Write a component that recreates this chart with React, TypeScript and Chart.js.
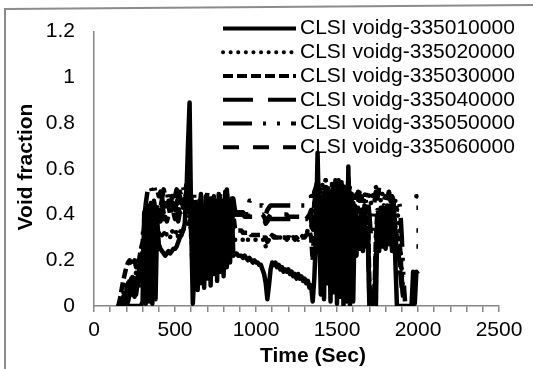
import React, { useEffect, useRef } from 'react';
import { Chart, registerables } from 'chart.js';

Chart.register(...registerables);

// ---- data ----
const TIME_SEC = [
  150, 160, 170, 180, 190,
  200, 210, 220, 230, 240, 250, 260, 270, 280, 290,
  300, 310, 320, 330, 340, 350, 360, 370, 380, 390,
  400, 410, 420, 430, 440, 450, 460, 470, 480, 490,
  500, 510, 520, 530, 540, 550, 560, 570, 580, 590,
  600, 610, 620, 630, 640, 650, 660, 670, 680, 690,
  700, 710, 720, 730, 740, 750, 760, 770, 780, 790,
  800, 810, 820, 830, 840, 850, 860, 870, 880, 890,
  900, 910, 920, 930, 940, 950, 960, 970, 980, 990,
  1000, 1010, 1020, 1030, 1040, 1050, 1060, 1070, 1080, 1090,
  1100, 1110, 1120, 1130, 1140, 1150, 1160, 1170, 1180, 1190,
  1200, 1210, 1220, 1230, 1240, 1250, 1260, 1270, 1280, 1290,
  1300, 1310, 1320, 1330, 1340, 1350, 1360, 1370, 1380, 1390,
  1400, 1410, 1420, 1430, 1440, 1450, 1460, 1470, 1480, 1490,
  1500, 1510, 1520, 1530, 1540, 1550, 1560, 1570, 1580, 1590,
  1600, 1610, 1620, 1630, 1640, 1650, 1660, 1670, 1680, 1690,
  1700, 1710, 1720, 1730, 1740, 1750, 1760, 1770, 1780, 1790,
  1800, 1810, 1820, 1830, 1840, 1850, 1860, 1870, 1880, 1890,
  1900, 1910, 1920, 1930, 1940, 1950, 1960, 1970, 1980, 1990,
  2000,
];

const VOIDG_335010000 = [
  0, 0, 0, 0, 0,
  0, 0, 0, 0, 0, 0, 0, 0, 0, 0,
  0.02, 0.41, 0.01, 0.43, 0.02, 0.44, 0.01, 0.42, 0.03, 0.38,
  0.27, 0.25, 0.24, 0.23, 0.22, 0.23, 0.24, 0.23, 0.24, 0.25,
  0.25, 0.26, 0.28, 0.30, 0.31, 0.33, 0.36, 0.48, 0.70, 0.89,
  0.35, 0.01, 0.15, 0.42, 0.07, 0.46, 0.10, 0.44, 0.08, 0.48,
  0.12, 0.45, 0.09, 0.47, 0.14, 0.43, 0.11, 0.49, 0.15, 0.46,
  0.13, 0.50, 0.17, 0.44, 0.19, 0.47, 0.22, 0.23, 0.23, 0.22,
  0.22, 0.22, 0.21, 0.22, 0.21, 0.20, 0.21, 0.20, 0.19, 0.20,
  0.19, 0.19, 0.18, 0.18, 0.16, 0.14, 0.10, 0.03, 0.09, 0.16,
  0.19, 0.18, 0.19, 0.17, 0.18, 0.16, 0.17, 0.15, 0.16, 0.15,
  0.16, 0.14, 0.15, 0.13, 0.14, 0.12, 0.14, 0.12, 0.13, 0.11,
  0.12, 0.10, 0.11, 0.08, 0.09, 0.02, 0.12, 0.30, 0.67, 0.35,
  0.05, 0.48, 0.03, 0.52, 0.10, 0.45, 0.02, 0.50, 0.06, 0.55,
  0.01, 0.47, 0.04, 0.53, 0.00, 0.45, 0.02, 0.61, 0.00, 0.49,
  0.02, 0.42, 0.22, 0.38, 0.25, 0.41, 0.24, 0.37, 0.26, 0.30,
  0.00, 0.02, 0.00, 0.01, 0.00, 0.40, 0.24, 0.43, 0.26, 0.41,
  0.25, 0.44, 0.27, 0.40, 0.24, 0.46, 0.20, 0.00, 0.00, 0.00,
  0.00, 0.00, 0.00, 0.00, 0.00, 0.00, 0.00, 0.15, 0.01, 0.15,
  0.14,
];

const VOIDG_335020000 = [
  0, 0, 0.02, 0.05, 0.08,
  0.10, 0.06, 0.12, 0.08, 0.14, 0.10, 0.15, 0.12, 0.16, 0.14,
  0.12, 0.18, 0.25, 0.30, 0.33, 0.34, 0.32, 0.33, 0.31, 0.30,
  0.32, 0.30, 0.31, 0.33, 0.30, 0.32, 0.31, 0.30, 0.33, 0.32,
  0.31, 0.33, 0.30, 0.32, 0.34, 0.33, 0.35, 0.38, 0.36, 0.40,
  0.30, 0.20, 0.28, 0.18, 0.27, 0.22, 0.30, 0.19, 0.26, 0.24,
  0.28, 0.20, 0.27, 0.22, 0.30, 0.21, 0.26, 0.24, 0.29, 0.23,
  0.27, 0.24, 0.30, 0.25, 0.28, 0.26, 0.30, 0.29, 0.29, 0.29,
  0.29, 0.29, 0.29, 0.30, 0.29, 0.29, 0.29, 0.29, 0.29, 0.29,
  0.29, 0.29, 0.29, 0.29, 0.29, 0.29, 0.26, 0.28, 0.29, 0.30,
  0.30, 0.30, 0.31, 0.30, 0.30, 0.30, 0.30, 0.30, 0.30, 0.30,
  0.30, 0.30, 0.30, 0.30, 0.30, 0.30, 0.30, 0.30, 0.30, 0.31,
  0.31, 0.32, 0.33, 0.33, 0.34, 0.38, 0.45, 0.50, 0.52, 0.48,
  0.50, 0.53, 0.49, 0.55, 0.50, 0.52, 0.48, 0.54, 0.50, 0.52,
  0.48, 0.53, 0.50, 0.55, 0.49, 0.52, 0.47, 0.50, 0.52, 0.49,
  0.50, 0.47, 0.49, 0.46, 0.50, 0.48, 0.45, 0.49, 0.47, 0.50,
  0.48, 0.45, 0.50, 0.47, 0.52, 0.48, 0.50, 0.46, 0.49, 0.47,
  0.48, 0.46, 0.50, 0.47, 0.49, 0.45, 0.46, 0.42, 0.38, 0.28,
  0.15, 0.05, null, null, null, null, null, null, null, 0.48,
  0.48,
];

const VOIDG_335030000 = [
  0, 0.03, 0.07, 0.11, 0.14,
  0.17, 0.19, 0.20, 0.19, 0.18, 0.20, 0.17, 0.19, 0.21, 0.25,
  0.28, 0.35, 0.40, 0.44, 0.38, 0.42, 0.40, 0.43, 0.39, 0.41,
  0.43, 0.40, 0.44, 0.41, 0.45, 0.42, 0.44, 0.40, 0.43, 0.45,
  0.42, 0.45, 0.41, 0.44, 0.46, 0.43, 0.47, 0.44, 0.46, 0.48,
  0.40, 0.32, 0.45, 0.30, 0.42, 0.35, 0.47, 0.33, 0.44, 0.36,
  0.46, 0.31, 0.43, 0.34, 0.48, 0.32, 0.45, 0.35, 0.47, 0.33,
  0.44, 0.36, 0.49, 0.34, 0.45, 0.38, 0.40, 0.34, 0.33, 0.33,
  0.33, 0.33, 0.32, 0.32, 0.32, 0.32, 0.32, 0.31, 0.31, 0.31,
  0.31, 0.31, 0.31, 0.31, 0.30, 0.30, 0.30, 0.28, 0.29, 0.30,
  0.31, 0.30, 0.30, 0.30, 0.30, 0.30, 0.30, 0.30, 0.30, 0.29,
  0.30, 0.30, 0.29, 0.30, 0.29, 0.30, 0.29, 0.30, 0.30, 0.30,
  0.30, 0.31, 0.32, 0.33, 0.30, 0.20, 0.35, 0.40, 0.45, 0.42,
  0.30, 0.45, 0.35, 0.48, 0.28, 0.44, 0.38, 0.50, 0.32, 0.46,
  0.36, 0.49, 0.30, 0.52, 0.34, 0.48, 0.29, 0.55, 0.35, 0.46,
  0.40, 0.44, 0.38, 0.43, 0.40, 0.42, 0.39, 0.44, 0.41, 0.43,
  0.10, 0.02, 0.05, 0.01, 0.30, 0.42, 0.40, 0.43, 0.41, 0.44,
  0.42, 0.43, 0.40, 0.44, 0.41, 0.43, 0.35, 0.30, 0.28, 0.25,
  0.12, 0.03, null, null, null, null, null, null, null, 0.43,
  0.43,
];

const VOIDG_335040000 = [
  0, 0, 0, 0.01, 0.03,
  0.06, 0.10, 0.04, 0.12, 0.07, 0.14, 0.05, 0.11, 0.08, 0.15,
  0.25, 0.20, 0.35, 0.28, 0.38, 0.30, 0.40, 0.36, 0.38, 0.37,
  0.39, 0.37, 0.40, 0.38, 0.39, 0.37, 0.40, 0.38, 0.39, 0.41,
  0.38, 0.40, 0.37, 0.41, 0.39, 0.42, 0.40, 0.43, 0.41, 0.50,
  0.45, 0.25, 0.40, 0.22, 0.38, 0.27, 0.41, 0.24, 0.39, 0.28,
  0.42, 0.26, 0.40, 0.23, 0.44, 0.27, 0.39, 0.25, 0.43, 0.29,
  0.40, 0.26, 0.45, 0.30, 0.41, 0.35, 0.42, 0.40, 0.40, 0.40,
  0.40, 0.40, 0.40, 0.39, 0.39, 0.39, 0.39, 0.39, 0.39, 0.38,
  0.38, 0.38, 0.38, 0.38, 0.38, 0.38, 0.36, 0.37, 0.38, 0.38,
  0.38, 0.38, 0.38, 0.38, 0.38, 0.38, 0.38, 0.38, 0.38, 0.38,
  0.38, 0.38, 0.38, 0.38, 0.38, 0.38, 0.38, 0.38, 0.38, 0.38,
  0.38, 0.38, 0.39, 0.40, 0.42, 0.35, 0.45, 0.50, 0.55, 0.46,
  0.40, 0.30, 0.44, 0.28, 0.46, 0.32, 0.42, 0.27, 0.45, 0.33,
  0.40, 0.30, 0.46, 0.28, 0.42, 0.34, 0.47, 0.30, 0.44, 0.38,
  0.35, 0.38, 0.33, 0.37, 0.34, 0.38, 0.32, 0.36, 0.35, 0.34,
  0.05, 0.00, 0.02, 0.00, 0.20, 0.36, 0.33, 0.37, 0.34, 0.36,
  0.35, 0.37, 0.33, 0.36, 0.34, 0.35, 0.30, 0.25, 0.20, 0.15,
  0.08, null, null, null, null, null, null, null, null, 0.33,
  0.33,
];

const VOIDG_335050000 = [
  0, 0, 0, 0, 0,
  0, 0.02, 0.05, 0.10, 0.06, 0.12, 0.15, 0.10, 0.18, 0.22,
  0.30, 0.38, 0.45, 0.50, 0.53, 0.52, 0.50, 0.53, 0.49, 0.51,
  0.48, 0.50, 0.47, 0.51, 0.48, 0.50, 0.46, 0.49, 0.47, 0.50,
  0.48, 0.51, 0.47, 0.50, 0.48, 0.52, 0.49, 0.53, 0.50, 0.52,
  0.48, 0.38, 0.50, 0.36, 0.47, 0.40, 0.49, 0.37, 0.46, 0.41,
  0.50, 0.38, 0.47, 0.40, 0.49, 0.37, 0.46, 0.41, 0.50, 0.39,
  0.48, 0.40, 0.51, 0.42, 0.49, 0.44, 0.47, 0.42, 0.40, 0.40,
  0.40, 0.40, 0.40, 0.40, 0.40, 0.40, 0.46, 0.46, 0.46, 0.45,
  0.45, 0.45, 0.44, 0.44, 0.44, 0.43, 0.40, 0.42, 0.43, 0.44,
  0.44, 0.44, 0.44, 0.44, 0.44, 0.44, 0.44, 0.44, 0.44, 0.44,
  0.44, 0.44, 0.44, 0.44, 0.44, 0.44, 0.44, 0.44, 0.44, 0.44,
  0.44, 0.44, 0.45, 0.46, 0.48, 0.45, 0.50, 0.52, 0.55, 0.50,
  0.45, 0.52, 0.42, 0.55, 0.46, 0.50, 0.40, 0.53, 0.44, 0.51,
  0.42, 0.55, 0.45, 0.50, 0.40, 0.52, 0.43, 0.56, 0.46, 0.48,
  0.45, 0.49, 0.44, 0.50, 0.46, 0.48, 0.43, 0.49, 0.45, 0.47,
  0.40, 0.30, 0.35, 0.45, 0.50, 0.47, 0.52, 0.48, 0.50, 0.46,
  0.49, 0.47, 0.50, 0.46, 0.48, 0.44, 0.40, 0.42, 0.46, 0.43,
  0.30, 0.12, 0.02, null, null, null, null, null, null, 0.48,
  0.48,
];

const VOIDG_335060000 = [
  0, 0, 0.01, 0.04, 0.02,
  0.08, 0.03, 0.10, 0.05, 0.12, 0.04, 0.09, 0.13, 0.06, 0.12,
  0.18, 0.30, 0.25, 0.40, 0.35, 0.45, 0.40, 0.46, 0.42, 0.44,
  0.46, 0.43, 0.47, 0.44, 0.45, 0.42, 0.46, 0.44, 0.47, 0.45,
  0.44, 0.47, 0.45, 0.48, 0.46, 0.49, 0.47, 0.50, 0.52, 0.55,
  0.30, 0.15, 0.35, 0.18, 0.33, 0.20, 0.36, 0.16, 0.34, 0.21,
  0.37, 0.18, 0.35, 0.20, 0.38, 0.17, 0.34, 0.22, 0.39, 0.19,
  0.36, 0.22, 0.40, 0.25, 0.37, 0.30, 0.41, 0.41, 0.41, 0.41,
  0.41, 0.41, 0.41, 0.40, 0.40, 0.40, 0.40, 0.40, 0.40, 0.40,
  0.40, 0.40, 0.40, 0.40, 0.40, 0.39, 0.37, 0.38, 0.39, 0.40,
  0.40, 0.40, 0.40, 0.40, 0.40, 0.40, 0.40, 0.40, 0.40, 0.40,
  0.39, 0.39, 0.39, 0.39, 0.39, 0.39, 0.39, 0.39, 0.39, 0.39,
  0.39, 0.39, 0.40, 0.41, 0.38, 0.30, 0.40, 0.47, 0.52, 0.44,
  0.35, 0.42, 0.30, 0.46, 0.33, 0.41, 0.28, 0.44, 0.36, 0.40,
  0.31, 0.45, 0.35, 0.42, 0.28, 0.47, 0.33, 0.44, 0.30, 0.42,
  0.38, 0.41, 0.36, 0.40, 0.37, 0.42, 0.35, 0.40, 0.38, 0.39,
  0.02, 0.00, 0.00, 0.00, 0.25, 0.39, 0.37, 0.40, 0.38, 0.41,
  0.39, 0.40, 0.37, 0.41, 0.38, 0.40, 0.33, 0.28, 0.22, 0.18,
  0.10, 0.03, null, null, null, null, null, null, null, 0.26,
  0.26,
];

const SERIES_VALUES = [
  VOIDG_335010000,
  VOIDG_335020000,
  VOIDG_335030000,
  VOIDG_335040000,
  VOIDG_335050000,
  VOIDG_335060000,
];

const SERIES_LABELS = [
  'CLSI voidg-335010000',
  'CLSI voidg-335020000',
  'CLSI voidg-335030000',
  'CLSI voidg-335040000',
  'CLSI voidg-335050000',
  'CLSI voidg-335060000',
];

const X_TICK_LABELS = [0, 500, 1000, 1500, 2000, 2500];
const Y_TICK_LABELS = [0, 0.2, 0.4, 0.6, 0.8, 1, 1.2];
const X_TITLE = 'Time (Sec)';
const Y_TITLE = 'Void fraction';

// ---- styles ----
const FONT = '"Liberation Sans", Arial, Helvetica, sans-serif';
const AXIS_COLOR = '#868686';
const DASHES: number[][] = [
  [],
  [0.1, 7.5],
  [10, 4],
  [30, 15],
  [29, 11, 3, 11, 3, 11],
  [16, 14],
];
const CAPS = ['butt', 'round', 'butt', 'butt', 'butt', 'butt'];

const overlayPlugin = {
  id: 'overlay',
  beforeDraw(chart: any) {
    const ctx = chart.ctx;
    ctx.save();
    ctx.fillStyle = '#ffffff';
    ctx.fillRect(0, 0, chart.width, chart.height);
    ctx.strokeStyle = '#8c8c8c';
    ctx.lineWidth = 2;
    ctx.beginPath();
    ctx.moveTo(5, 369);
    ctx.lineTo(5, 9);
    ctx.lineTo(533, 5);
    ctx.stroke();
    ctx.restore();
  },
  afterDraw(chart: any) {
    const ctx = chart.ctx;
    ctx.save();
    ctx.fillStyle = '#000';
    ctx.font = `bold 21px ${FONT}`;
    ctx.textAlign = 'center';
    ctx.textBaseline = 'middle';
    ctx.fillText(X_TITLE, 313, 356);
    ctx.save();
    ctx.translate(26, 167);
    ctx.rotate(-Math.PI / 2);
    ctx.fillText(Y_TITLE, 0, 0);
    ctx.restore();

    // legend
    ctx.font = `21px ${FONT}`;
    ctx.textAlign = 'left';
    SERIES_LABELS.forEach((name, i) => {
      const y = 28.5 + i * 23.75;
      ctx.strokeStyle = '#000';
      ctx.lineWidth = 4;
      ctx.lineCap = CAPS[i];
      ctx.setLineDash(DASHES[i]);
      ctx.beginPath();
      ctx.moveTo(223, y);
      ctx.lineTo(296, y);
      ctx.stroke();
      ctx.setLineDash([]);
      ctx.fillText(name, 300, y);
    });
    ctx.restore();
  },
};

export default function App() {
  const ref = useRef<HTMLCanvasElement | null>(null);

  useEffect(() => {
    const canvas = ref.current;
    if (!canvas) return;
    const datasets = SERIES_VALUES.map((vals, i) => ({
      label: SERIES_LABELS[i],
      data: TIME_SEC.map((t, j) => ({ x: t, y: vals[j] })),
      borderColor: '#000000',
      backgroundColor: '#000000',
      borderWidth: 4.5,
      borderDash: DASHES[i],
      borderCapStyle: CAPS[i] as any,
      borderJoinStyle: 'round' as any,
      pointRadius: 0,
      pointHoverRadius: 0,
      tension: 0,
      fill: false,
      spanGaps: false,
    }));

    const chart = new Chart(canvas, {
      type: 'line',
      data: { datasets },
      options: {
        animation: false,
        responsive: false,
        maintainAspectRatio: false,
        devicePixelRatio: 1,
        events: [],
        layout: { padding: { left: 4, top: 28, right: 34, bottom: 0 } },
        plugins: {
          legend: { display: false },
          tooltip: { enabled: false },
          title: { display: false },
        },
        scales: {
          x: {
            type: 'linear',
            min: 0,
            max: 2500,
            ticks: {
              stepSize: 100,
              maxTicksLimit: 40,
              autoSkip: false,
              maxRotation: 0,
              minRotation: 0,
              padding: 6,
              color: '#000',
              font: { size: 21, family: FONT },
              callback: (v: any) => (X_TICK_LABELS.includes(Number(v)) ? String(v) : ''),
            },
            grid: {
              display: true,
              drawOnChartArea: false,
              drawTicks: true,
              tickLength: 6,
              color: AXIS_COLOR,
              lineWidth: 1.5,
            },
            border: { display: true, color: AXIS_COLOR, width: 1.5 },
            afterFit: (s: any) => {
              s.height = 63;
            },
          },
          y: {
            type: 'linear',
            min: 0,
            max: 1.2,
            afterBuildTicks: (s: any) => {
              s.ticks = Y_TICK_LABELS.map((v) => ({ value: v }));
            },
            ticks: {
              padding: 19,
              color: '#000',
              font: { size: 21, family: FONT },
              callback: (v: any) => String(Number(Number(v).toFixed(1))),
            },
            grid: { display: false, drawTicks: false },
            border: { display: true, color: AXIS_COLOR, width: 1.5 },
            afterFit: (s: any) => {
              s.width = 90;
            },
          },
        },
      },
      plugins: [overlayPlugin],
    });
    return () => chart.destroy();
  }, []);

  return (
    <div style={{ position: 'fixed', left: 0, top: 0, width: 533, height: 369, background: '#fff' }}>
      <canvas ref={ref} width={533} height={369} style={{ display: 'block', width: 533, height: 369 }} />
    </div>
  );
}
